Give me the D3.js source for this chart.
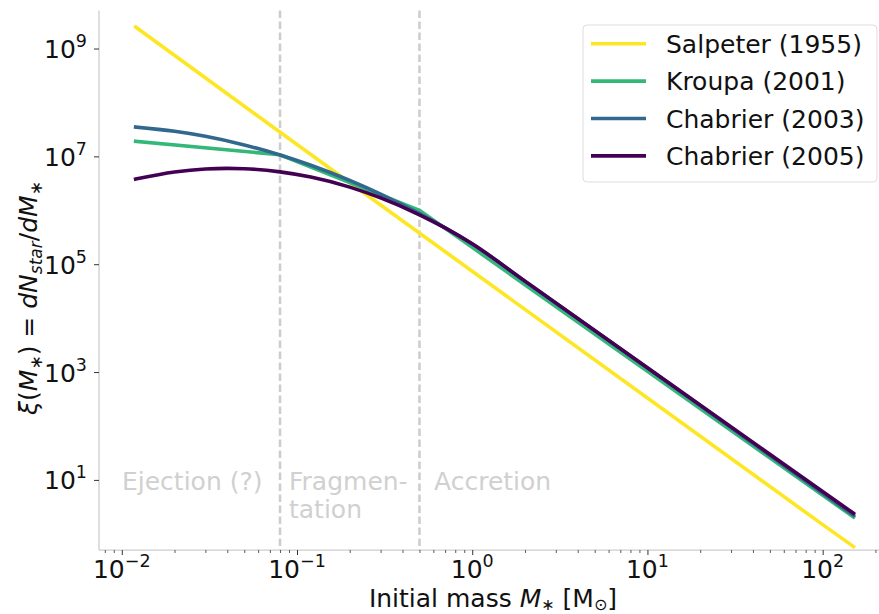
<!DOCTYPE html>
<html>
<head>
<meta charset="utf-8">
<script src="https://cdn.jsdelivr.net/npm/d3@7"></script>
<style>
  body { margin: 0; background: #fff; }
  svg { font-family: "DejaVu Sans", sans-serif; }
  .it { font-style: italic; }
</style>
</head>
<body>
<svg id="chart" width="879" height="614"></svg>
<script>
// values: [mass in Msun, dN/dM]
const salpeter   = [[0.012, 2.5e9], [0.1, 1.66e7], [1, 7.4e4], [10, 3.3e2], [100, 1.48], [150, 0.58]];
const kroupa     = [[0.012, 1.9e7], [0.08, 1.07e7], [0.5, 1.0e6], [1, 2.05e5], [10, 1.03e3], [150, 2.05]];
const chabrier03 = [[0.012, 3.5e7], [0.02, 2.92e7], [0.03, 2.36e7], [0.05, 1.63e7], [0.08, 1.06e7],
                    [0.12, 6.85e6], [0.2, 3.59e6], [0.3, 2.0e6], [0.5, 8.67e5], [0.7, 4.74e5],
                    [1, 2.38e5], [2, 4.83e4], [10, 1.19e3], [150, 2.2]];
const chabrier05 = [[0.012, 3.79e6], [0.02, 5.14e6], [0.03, 5.83e6], [0.04, 5.98e6], [0.05, 5.9e6],
                    [0.08, 5.16e6], [0.12, 4.13e6], [0.2, 2.69e6], [0.3, 1.7e6], [0.5, 8.26e5],
                    [0.7, 4.71e5], [1, 2.39e5], [2, 4.85e4], [10, 1.2e3], [150, 2.4]];

const seriesNames  = ["Salpeter (1955)", "Kroupa (2001)", "Chabrier (2003)", "Chabrier (2005)"];
const seriesColors = ["#fde725", "#35b779", "#31688e", "#440154"];
const allSeries    = [salpeter, kroupa, chabrier03, chabrier05];
// power laws are straight in log-log, lognormals are smooth
const smooth       = [false, false, true, true];

const regionBounds = [0.08, 0.5];
const yTickExps = [1, 3, 5, 7, 9];
const xTickExps = [-2, -1, 0, 1, 2];

const svg = d3.select("#chart");

const x = d3.scaleLog().domain([Math.pow(10, -2.13), Math.pow(10, 2.39)]).range([99, 891]);
const y = d3.scaleLog().domain([Math.pow(10, -0.30), Math.pow(10, 9.705)]).range([550, 10.5]);

// region separators
svg.selectAll(".sep")
  .data(regionBounds)
  .enter().append("line")
  .attr("x1", d => x(d)).attr("x2", d => x(d))
  .attr("y1", y.range()[1]).attr("y2", y.range()[0])
  .attr("stroke", "#cccccc").attr("stroke-width", 2.5)
  .attr("stroke-dasharray", "7.5,3.5");

// region labels
const regionColor = "#d0d0d0";
svg.append("text").attr("x", 122).attr("y", 490).attr("font-size", 25).attr("fill", regionColor).text("Ejection (?)");
svg.append("text").attr("x", 289).attr("y", 490).attr("font-size", 25).attr("fill", regionColor).text("Fragmen-");
svg.append("text").attr("x", 289).attr("y", 518).attr("font-size", 25).attr("fill", regionColor).text("tation");
svg.append("text").attr("x", 434).attr("y", 490).attr("font-size", 25).attr("fill", regionColor).text("Accretion");

// spines
svg.append("line").attr("x1", 99).attr("x2", 99).attr("y1", 10.5).attr("y2", 550)
  .attr("stroke", "#cccccc").attr("stroke-width", 1.25);
svg.append("line").attr("x1", 99).attr("x2", 891).attr("y1", 550).attr("y2", 550)
  .attr("stroke", "#cccccc").attr("stroke-width", 1.25);

// y ticks
const yAxis = svg.append("g").attr("transform", "translate(99,0)")
  .call(d3.axisLeft(y).tickValues(yTickExps.map(e => Math.pow(10, e))).tickSize(5).tickFormat(""));
yAxis.select(".domain").remove();
yAxis.selectAll(".tick line").attr("stroke", "#333").attr("stroke-width", 1);

yTickExps.forEach(e => {
  const t = svg.append("text").attr("x", 87).attr("y", y(Math.pow(10, e)) + 9.5)
    .attr("text-anchor", "end").attr("font-size", 25).attr("fill", "#111");
  t.append("tspan").text("10");
  t.append("tspan").attr("dy", -11).attr("font-size", 17.5).text(e);
});

// x ticks
const minors = [];
for (let k = -3; k <= 2; k++) for (let m = 2; m <= 9; m++) {
  const v = m * Math.pow(10, k);
  if (v > x.domain()[0] && v < x.domain()[1]) minors.push(v);
}
const xMinor = svg.append("g").attr("transform", "translate(0,550)")
  .call(d3.axisBottom(x).tickValues(minors).tickSize(3).tickFormat(""));
xMinor.select(".domain").remove();
xMinor.selectAll(".tick line").attr("stroke", "#333").attr("stroke-width", 0.8);

const xMajor = svg.append("g").attr("transform", "translate(0,550)")
  .call(d3.axisBottom(x).tickValues(xTickExps.map(e => Math.pow(10, e))).tickSize(5).tickFormat(""));
xMajor.select(".domain").remove();
xMajor.selectAll(".tick line").attr("stroke", "#333").attr("stroke-width", 1);

xTickExps.forEach(e => {
  const t = svg.append("text").attr("x", x(Math.pow(10, e))).attr("y", 578)
    .attr("text-anchor", "middle").attr("font-size", 25).attr("fill", "#111");
  t.append("tspan").text("10");
  t.append("tspan").attr("dy", -11).attr("font-size", 17.5).text(e < 0 ? "\u2212" + (-e) : e);
});

// curves
const lineSmooth = d3.line().x(d => x(d[0])).y(d => y(d[1])).curve(d3.curveMonotoneX);
const lineStraight = d3.line().x(d => x(d[0])).y(d => y(d[1]));

svg.selectAll(".imf")
  .data(allSeries)
  .enter().append("path")
  .attr("class", "imf")
  .attr("d", (d, i) => smooth[i] ? lineSmooth(d) : lineStraight(d))
  .attr("fill", "none")
  .attr("stroke", (d, i) => seriesColors[i])
  .attr("stroke-width", 3.6)
  .attr("stroke-linecap", "square");

// axis labels
const xl = svg.append("text").attr("x", 493).attr("y", 607)
  .attr("text-anchor", "middle").attr("font-size", 25).attr("fill", "#111");
xl.append("tspan").text("Initial mass ");
xl.append("tspan").attr("class", "it").text("M");
xl.append("tspan").attr("dy", 3).attr("font-size", 16).text("\u2217");
xl.append("tspan").attr("dy", -3).text(" [M");
xl.append("tspan").attr("dy", 3).attr("font-size", 16).text("\u2299");
xl.append("tspan").attr("dy", -3).text("]");

const yl = svg.append("text")
  .attr("transform", "translate(37,298) rotate(-90)")
  .attr("text-anchor", "middle").attr("font-size", 25).attr("fill", "#111");
yl.append("tspan").attr("class", "it").text("\u03be");
yl.append("tspan").text("(");
yl.append("tspan").attr("class", "it").text("M");
yl.append("tspan").attr("dy", 5).attr("font-size", 17).text("\u2217");
yl.append("tspan").attr("dy", -5).text(") = ");
yl.append("tspan").attr("class", "it").text("dN");
yl.append("tspan").attr("class", "it").attr("dy", 5).attr("font-size", 17).text("star");
yl.append("tspan").attr("dy", -5).text("/");
yl.append("tspan").attr("class", "it").text("dM");
yl.append("tspan").attr("dy", 5).attr("font-size", 17).text("\u2217");

// legend
const lg = svg.append("g").attr("transform", "translate(583,25)");
lg.append("rect").attr("width", 294).attr("height", 157).attr("rx", 4)
  .attr("fill", "#fff").attr("fill-opacity", 0.8)
  .attr("stroke", "#dddddd").attr("stroke-width", 1);
seriesNames.forEach((name, i) => {
  const cy = 18.7 + i * 37.4;
  lg.append("line").attr("x1", 8).attr("x2", 63).attr("y1", cy).attr("y2", cy)
    .attr("stroke", seriesColors[i]).attr("stroke-width", 3.6);
  lg.append("text").attr("x", 83).attr("y", cy + 9).attr("font-size", 25).attr("fill", "#111").text(name);
});
</script>
</body>
</html>
